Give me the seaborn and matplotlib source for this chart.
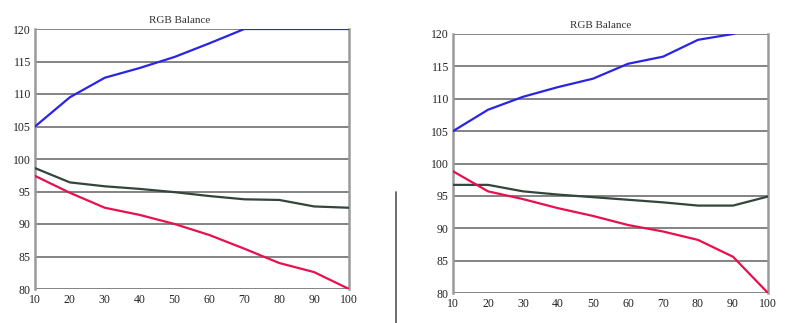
import numpy as np
import pandas as pd
import matplotlib
matplotlib.use("Agg")
import matplotlib.pyplot as plt
import seaborn as sns
from matplotlib.lines import Line2D

sns.set_style("white")
plt.rcParams['font.family'] = ['Liberation Serif', 'DejaVu Serif']

x_vals = [10, 20, 30, 40, 50, 60, 70, 80, 90, 100]
titles = ["RGB Balance", "RGB Balance"]

left_blue = [105.0, 109.5, 112.5, 114.0, 115.7, 117.8, 120.0, 120.0, 120.0, 120.0]
left_gray = [98.6, 96.4, 95.8, 95.4, 94.9, 94.3, 93.8, 93.7, 92.7, 92.5]
left_red = [97.4, 94.8, 92.5, 91.4, 90.0, 88.3, 86.2, 84.0, 82.6, 80.0]

right_blue = [105.0, 108.3, 110.3, 111.8, 113.1, 115.4, 116.5, 119.1, 120.0, 122.0]
right_gray = [96.7, 96.7, 95.7, 95.2, 94.8, 94.4, 94.0, 93.5, 93.5, 94.9]
right_red = [98.8, 95.7, 94.5, 93.1, 91.9, 90.5, 89.5, 88.2, 85.6, 80.0]

y_ticks = [80, 85, 90, 95, 100, 105, 110, 115, 120]

palette = {"Blue": "#2a24e6", "Green": "#34453c", "Red": "#e8104e"}

fig = plt.figure(figsize=(7.92, 3.23), dpi=100)
W, H = 792, 323
axes_px = [(35, 29, 349, 289), (453, 34, 768, 293)]
series = [(left_blue, left_gray, left_red), (right_blue, right_gray, right_red)]
title_x = [0.46, 0.47]

for i, (box, (b, g, r)) in enumerate(zip(axes_px, series)):
    x0, y0, x1, y1 = box
    ax = fig.add_axes([x0 / W, 1 - y1 / H, (x1 - x0) / W, (y1 - y0) / H])
    df = pd.DataFrame({
        "x": x_vals * 3,
        "value": b + g + r,
        "channel": ["Blue"] * 10 + ["Green"] * 10 + ["Red"] * 10,
    })
    sns.lineplot(data=df, x="x", y="value", hue="channel", palette=palette,
                 ax=ax, linewidth=1.6, legend=False, zorder=3)
    ax.set_xlim(10, 100)
    ax.set_ylim(80, 120)
    ax.set_xticks(x_vals)
    ax.set_yticks(y_ticks)
    ax.set_xticklabels([str(v) for v in x_vals])
    ax.set_yticklabels([str(v) for v in y_ticks])
    ax.set_xlabel("")
    ax.set_ylabel("")
    ax.yaxis.grid(True, color="#7a7a7a", linewidth=1.3)
    ax.xaxis.grid(False)
    for s in ["top", "bottom"]:
        ax.spines[s].set_visible(False)
    for s in ["left", "right"]:
        ax.spines[s].set_visible(True)
        ax.spines[s].set_color("#9a9a9a")
        ax.spines[s].set_linewidth(1.8)
    ax.tick_params(axis="both", labelsize=8.5, colors="#222222", length=3,
                   width=0.8, pad=1)
    ax.tick_params(axis="y", direction="out", pad=0)
    ax.tick_params(axis="x", direction="inout", pad=2)
    ax.text(title_x[i], 1.015, titles[i], transform=ax.transAxes,
            ha="center", va="bottom", fontsize=8, color="#333333")

fig.add_artist(Line2D([396 / W, 396 / W], [0, 1 - 192 / H],
                      color="#555555", linewidth=1.2))

fig.savefig("out.png", dpi=100)
